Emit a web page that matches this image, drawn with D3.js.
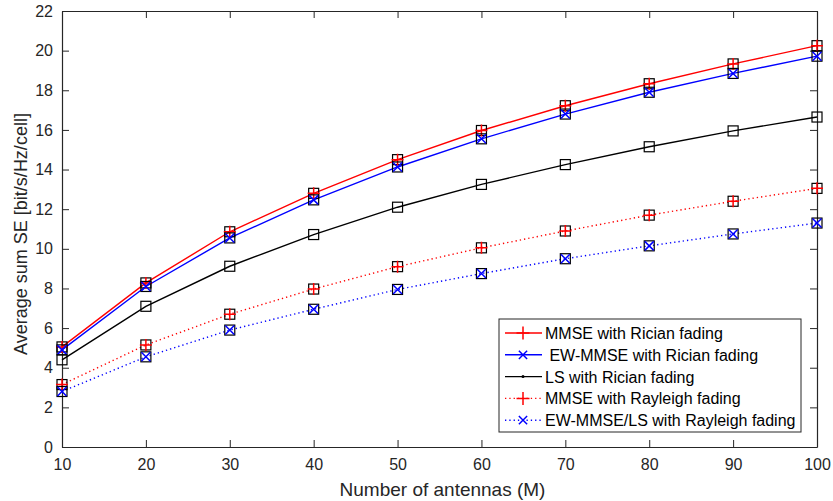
<!DOCTYPE html>
<html><head><meta charset="utf-8">
<script src="https://cdn.jsdelivr.net/npm/d3@7"></script>
<style>body{margin:0;background:#fff}svg{display:block;font-family:"Liberation Sans",Arial,sans-serif}</style>
</head><body><svg id="c" width="833" height="501"></svg>
<script>
const antennas = [10,20,30,40,50,60,70,80,90,100];
const mmseRician = [5.05,8.28,10.86,12.8,14.5,15.97,17.22,18.33,19.33,20.25];
const ewmmseRician = [4.9,8.1,10.55,12.47,14.13,15.55,16.8,17.9,18.85,19.72];
const lsRician = [4.4,7.1,9.12,10.72,12.1,13.25,14.25,15.15,15.95,16.65];
const mmseRayleigh = [3.15,5.15,6.7,7.97,9.1,10.05,10.9,11.7,12.4,13.05];
const ewmmseRayleigh = [2.8,4.55,5.9,6.95,7.95,8.75,9.5,10.15,10.75,11.3];
const xTicks = [10,20,30,40,50,60,70,80,90,100];
const yTicks = [0,2,4,6,8,10,12,14,16,18,20,22];
const seriesNames = ["MMSE with Rician fading"," EW-MMSE with Rician fading","LS with Rician fading","MMSE with Rayleigh fading","EW-MMSE/LS with Rayleigh fading"];

const series = [
  {name:seriesNames[0], v:mmseRician, color:"#ff0000", dash:null, mark:"plus"},
  {name:seriesNames[1], v:ewmmseRician, color:"#0000ff", dash:null, mark:"x"},
  {name:seriesNames[2], v:lsRician, color:"#000000", dash:null, mark:"dot"},
  {name:seriesNames[3], v:mmseRayleigh, color:"#ff0000", dash:"1.3,3", mark:"plus"},
  {name:seriesNames[4], v:ewmmseRayleigh, color:"#0000ff", dash:"1.3,3", mark:"x"}
];

const L=62,R=817,T=11,B=447;
const svg=d3.select("#c");
const x=d3.scaleLinear().domain([10,100]).range([L,R]);
const y=d3.scaleLinear().domain([0,22]).range([B,T]);

// axes with inward ticks
const ax=svg.append("g");
ax.append("g").attr("transform",`translate(0,${B})`).call(d3.axisBottom(x).tickValues(xTicks).tickSizeInner(-7).tickSizeOuter(0).tickPadding(12));
ax.append("g").attr("transform",`translate(0,${T})`).call(d3.axisTop(x).tickValues(xTicks).tickSizeInner(-7).tickSizeOuter(0).tickFormat(""));
ax.append("g").attr("transform",`translate(${L},0)`).call(d3.axisLeft(y).tickValues(yTicks).tickSizeInner(-7).tickSizeOuter(0).tickPadding(9));
ax.append("g").attr("transform",`translate(${R},0)`).call(d3.axisRight(y).tickValues(yTicks).tickSizeInner(-7).tickSizeOuter(0).tickFormat(""));
ax.selectAll(".domain").attr("stroke","#262626").attr("stroke-width",1.2);
ax.selectAll(".tick line").attr("stroke","#262626").attr("stroke-width",1);
ax.selectAll(".tick text").attr("font-size",16).attr("fill","#262626").attr("font-family","Liberation Sans, Arial, sans-serif");

svg.append("text").attr("x",(L+R)/2+3).attr("y",496).attr("text-anchor","middle").attr("font-size",19).attr("fill","#262626").text("Number of antennas (M)");
svg.append("text").attr("transform",`translate(27,234) rotate(-90)`).attr("text-anchor","middle").attr("font-size",18).attr("fill","#262626").text("Average sum SE [bit/s/Hz/cell]");

const line=d3.line().x((d,i)=>x(antennas[i])).y(d=>y(d));
function marker(g,type,cx,cy,color,s){
  if(type==="plus"){
    g.append("path").attr("d",`M${cx-s},${cy}H${cx+s}M${cx},${cy-s}V${cy+s}`).attr("stroke",color).attr("stroke-width",1.5).attr("fill","none");
  } else if(type==="x"){
    const k=s*0.75;
    g.append("path").attr("d",`M${cx-k},${cy-k}L${cx+k},${cy+k}M${cx-k},${cy+k}L${cx+k},${cy-k}`).attr("stroke",color).attr("stroke-width",1.5).attr("fill","none");
  } else if(type==="dot"){
    g.append("circle").attr("cx",cx).attr("cy",cy).attr("r",1.5).attr("fill",color);
  }
}
const pg=svg.append("g");
series.forEach(s=>{
  pg.append("path").datum(s.v).attr("d",line).attr("fill","none").attr("stroke",s.color).attr("stroke-width",1.4).attr("stroke-dasharray",s.dash);
});
series.forEach(s=>{
  s.v.forEach((v,i)=>{
    const cx=x(antennas[i]), cy=y(v);
    pg.append("rect").attr("x",cx-5).attr("y",cy-5).attr("width",10).attr("height",10).attr("fill","none").attr("stroke","#000").attr("stroke-width",1.2);
    if(s.mark!=="dot") marker(pg,s.mark,cx,cy,s.color,6);
  });
});

// legend
const lg=svg.append("g");
lg.append("rect").attr("x",499).attr("y",319).attr("width",302).attr("height",113).attr("fill","#fff").attr("stroke","#262626").attr("stroke-width",1);
series.forEach((s,i)=>{
  const yy=333+i*21.8;
  lg.append("line").attr("x1",505).attr("x2",542).attr("y1",yy).attr("y2",yy).attr("stroke",s.color).attr("stroke-width",1.4).attr("stroke-dasharray",s.dash);
  marker(lg,s.mark,523,yy,s.color,s.mark==="x"?5.5:6.5);
  lg.append("text").attr("x",545).attr("y",yy+6).attr("font-size",16).attr("fill","#000").attr("xml:space","preserve").text(s.name);
});
</script></body></html>
